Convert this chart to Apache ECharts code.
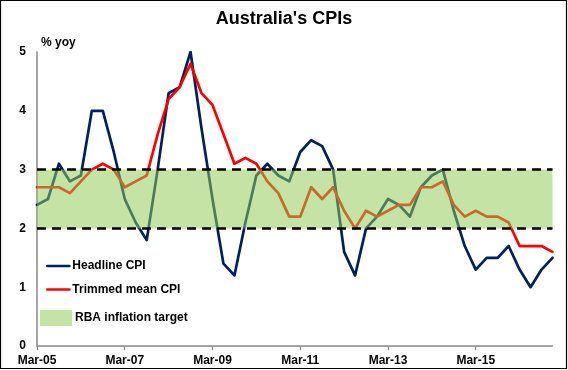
<!DOCTYPE html>
<html>
<head>
<meta charset="utf-8">
<script src="https://cdn.jsdelivr.net/npm/echarts@6/dist/echarts.min.js"></script>
<style>
html,body{margin:0;padding:0;background:#fff;}
#c{width:568px;height:370px;}
</style>
</head>
<body>
<div id="c"></div>
<script>
const categories = [
 'Mar-05','Jun-05','Sep-05','Dec-05','Mar-06','Jun-06','Sep-06','Dec-06',
 'Mar-07','Jun-07','Sep-07','Dec-07','Mar-08','Jun-08','Sep-08','Dec-08',
 'Mar-09','Jun-09','Sep-09','Dec-09','Mar-10','Jun-10','Sep-10','Dec-10',
 'Mar-11','Jun-11','Sep-11','Dec-11','Mar-12','Jun-12','Sep-12','Dec-12',
 'Mar-13','Jun-13','Sep-13','Dec-13','Mar-14','Jun-14','Sep-14','Dec-14',
 'Mar-15','Jun-15','Sep-15','Dec-15','Mar-16','Jun-16','Sep-16','Dec-16'
];
const headlineCPI = [
 2.4,2.5,3.1,2.8,2.9,4.0,4.0,3.3,
 2.5,2.1,1.8,3.0,4.3,4.4,5.0,3.7,
 2.5,1.4,1.2,2.1,2.9,3.1,2.9,2.8,
 3.3,3.5,3.4,3.0,1.6,1.2,2.0,2.2,
 2.5,2.4,2.2,2.7,2.9,3.0,2.3,1.7,
 1.3,1.5,1.5,1.7,1.3,1.0,1.3,1.5
];
const trimmedMeanCPI = [
 2.7,2.7,2.7,2.6,2.8,3.0,3.1,3.0,
 2.7,2.8,2.9,3.6,4.2,4.4,4.8,4.3,
 4.1,3.6,3.1,3.2,3.1,2.8,2.6,2.2,
 2.2,2.7,2.5,2.7,2.3,2.0,2.3,2.2,
 2.3,2.4,2.4,2.7,2.7,2.8,2.4,2.2,
 2.3,2.2,2.2,2.1,1.7,1.7,1.7,1.6
];
const targetLow = 2;
const targetHigh = 3;
const yTicks = {min:0, max:5, interval:1};

const FONT = "'Liberation Sans', Arial, sans-serif";
const chart = echarts.init(document.getElementById('c'), null, {renderer:'canvas'});
chart.setOption({
  backgroundColor:'#ffffff',
  animation:false,
  title:{
    text:"Australia's CPIs",
    left:'center', top:10, padding:0,
    textStyle:{fontFamily:FONT, fontSize:18, fontWeight:'bold', color:'#000'}
  },
  graphic:[{
    type:'rect', silent:true, z:100,
    shape:{x:0.5, y:0.5, width:566, height:368},
    style:{fill:'none', stroke:'#000', lineWidth:1.2}
  }],
  legend:[{
    orient:'vertical', left:46, top:260, padding:0,
    itemWidth:22, itemHeight:14, itemGap:11.5,
    itemStyle:{opacity:0},
    lineStyle:{width:2.7},
    data:['Headline CPI','Trimmed mean CPI'],
    textStyle:{fontFamily:FONT, fontSize:12, fontWeight:'bold', color:'#000', padding:[0,0,0,-2]},
    selectedMode:false
  },{
    orient:'vertical', left:40, top:310, padding:0,
    itemWidth:32, itemHeight:16,
    data:[{name:'RBA inflation target', icon:'rect'}],
    textStyle:{fontFamily:FONT, fontSize:12, fontWeight:'bold', color:'#000', padding:[0,0,0,-2]},
    selectedMode:false
  }],
  grid:{left:37, right:15.5, top:52, bottom:24, containLabel:false},
  xAxis:{
    type:'category', data:categories, boundaryGap:false,
    axisLine:{show:true, lineStyle:{color:'#888888', width:1.5}},
    axisTick:{show:true, interval:7, length:4, lineStyle:{color:'#888888', width:1.2}},
    axisLabel:{interval:7, margin:9, fontFamily:FONT, fontSize:12, fontWeight:'bold', color:'#000'},
    splitLine:{show:false}
  },
  yAxis:{
    type:'value', min:yTicks.min, max:yTicks.max, interval:yTicks.interval,
    name:'% yoy', nameLocation:'end', nameGap:9,
    nameTextStyle:{fontFamily:FONT, fontSize:12, fontWeight:'bold', color:'#000', align:'left', verticalAlign:'middle', padding:[0,0,0,4]},
    axisLine:{show:true, lineStyle:{color:'#888888', width:1.5}},
    axisTick:{show:false},
    axisLabel:{margin:11, fontFamily:FONT, fontSize:12, fontWeight:'bold', color:'#000'},
    splitLine:{show:false}
  },
  series:[{
    name:'Headline CPI', type:'line', data:headlineCPI, symbol:'none', z:2,
    itemStyle:{color:'#002060'},
    lineStyle:{color:'#002060', width:2.7, join:'round', cap:'round'}
  },{
    name:'Trimmed mean CPI', type:'line', data:trimmedMeanCPI, symbol:'none', z:2,
    itemStyle:{color:'#ff0000'},
    lineStyle:{color:'#ff0000', width:2.7, join:'round', cap:'round'}
  },{
    name:'RBA inflation target', type:'line', data:[], symbol:'none', z:3,
    itemStyle:{color:'#c4e3a5'},
    lineStyle:{width:0},
    markArea:{
      silent:true, z:5,
      itemStyle:{color:'rgba(143,202,85,0.53)'},
      data:[[{yAxis:targetLow},{yAxis:targetHigh}]]
    }
  },{
    name:'target lines', type:'line', data:[], symbol:'none', z:4,
    markLine:{
      silent:true, z:6, symbol:['none','none'], label:{show:false},
      lineStyle:{color:'#000', type:[9,6], width:2.5},
      data:[{yAxis:targetLow},{yAxis:targetHigh}]
    }
  }]
});
</script>
</body>
</html>
